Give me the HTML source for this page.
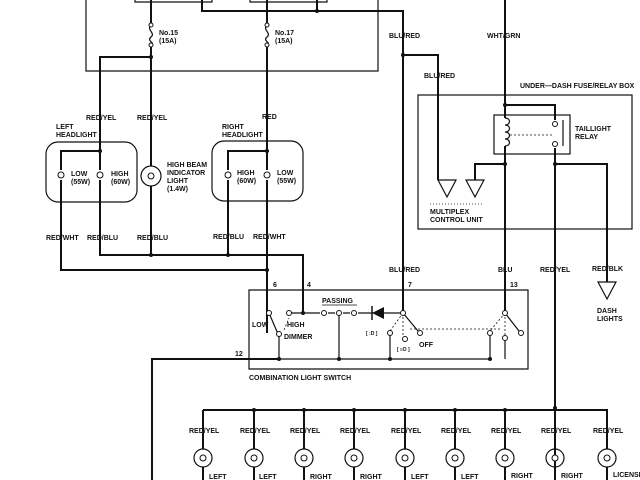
<!DOCTYPE html>
<html><head><meta charset="utf-8"><style>
html,body{margin:0;padding:0;background:#fff;}
svg{display:block;}
text{font-family:"Liberation Sans",sans-serif;font-size:7px;font-weight:bold;fill:#111;}
</style></head><body>
<svg width="640" height="480" viewBox="0 0 640 480" xmlns="http://www.w3.org/2000/svg">
<g fill="none" stroke="#111" stroke-width="1.2">
<path d="M86 0 V71 H378 V0"/>
<path d="M135 0 V2 H212 V0 M250 0 V2 H327 V0"/>
</g>
<g fill="none" stroke="#111" stroke-width="2">
<path d="M202 0 V11 H403 V313"/>
<path d="M317 0 V11"/>
<path d="M403 55 H438 V180"/>
<path d="M151 0 V25 M151 45 V166 M151 186 V255"/>
<path d="M151 57 H100 V170 M100 180 V255 H303 V313"/>
<path d="M267 0 V25 M267 45 V170 M267 180 V333"/>
<path d="M267 151 H228 V170 M228 180 V255"/>
<path d="M100 151 H61 V170 M61 180 V270 H267"/>
<path d="M505 0 V118 M505 146 V313"/>
<path d="M505 105 H555 V120 M555 148 V480"/>
<path d="M505 164 H475 V180"/>
<path d="M555 164 H607 V282"/>
<path d="M203 410 H607 V449 M203 410 V449 M254 410 V449 M304 410 V449 M354 410 V449 M405 410 V449 M455 410 V449 M505 410 V449 M555 410 V449"/>
<path d="M203 467 V480 M254 467 V480 M304 467 V480 M354 467 V480 M405 467 V480 M455 467 V480 M505 467 V480 M555 467 V480 M607 467 V480"/>
<path d="M152 480 V359 H279"/>
</g>
<g fill="none" stroke="#111" stroke-width="1.2">
<path d="M151 25 c-5 5 5 8 0 12 c-5 4 5 6 0 8"/>
<path d="M267 25 c-5 5 5 8 0 12 c-5 4 5 6 0 8"/>
<rect x="46" y="142" width="91" height="60" rx="12"/>
<rect x="212" y="141" width="91" height="60" rx="12"/>
<circle cx="151" cy="176" r="10"/>
<rect x="418" y="95" width="214" height="134"/>
<rect x="494" y="115" width="76" height="39"/>
<path d="M438 180 h18 l-9 17 z M466 180 h18 l-9 17 z M598 282 h18 l-9 17 z"/>
<path d="M430 204 H484" stroke-dasharray="1 2" stroke-width="0.8"/>
<path d="M505 118 c6 0 6 7 0 7 c6 0 6 7 0 7 c6 0 6 7 0 7 c6 0 6 7 0 7"/>
<path d="M563 120 V146"/>
<path d="M510 135 H552" stroke-dasharray="2 2" stroke-width="0.8"/>
<path d="M249 290 H528 V369 H249 Z"/>
<path d="M269 313 L278 334"/>
<path d="M279 334 V359 H490 M339 313 V359 M390 333 V359 M490 333 V359 M505 338 V359"/>
<path d="M289 313 H303 H320"/>
<path d="M328 313 H335 M343 313 H350 M358 313 H403"/>
<path d="M322 305 H357" stroke-width="0.8"/>
<path d="M403 313 L418 331 M505 313 L519 331"/>
<path d="M403 313 L390 331 M403 313 V338 M505 313 L490 331 M505 313 V336 M284 330 L289 318 M410 329 H500" stroke-dasharray="2 2" stroke-width="0.8"/>
<g>
<circle cx="203" cy="458" r="9"/><circle cx="254" cy="458" r="9"/><circle cx="304" cy="458" r="9"/><circle cx="354" cy="458" r="9"/><circle cx="405" cy="458" r="9"/><circle cx="455" cy="458" r="9"/><circle cx="505" cy="458" r="9"/><circle cx="555" cy="458" r="9"/><circle cx="607" cy="458" r="9"/>
</g>
</g>
<g fill="#fff" stroke="#111" stroke-width="1">
<circle cx="61" cy="175" r="3"/><circle cx="100" cy="175" r="3"/><circle cx="228" cy="175" r="3"/><circle cx="267" cy="175" r="3"/><circle cx="151" cy="176" r="3"/>
<circle cx="151" cy="25" r="2"/><circle cx="151" cy="45" r="2"/><circle cx="267" cy="25" r="2"/><circle cx="267" cy="45" r="2"/>
<circle cx="555" cy="124" r="2.5"/><circle cx="555" cy="144" r="2.5"/>
<circle cx="269" cy="313" r="2.5"/><circle cx="289" cy="313" r="2.5"/><circle cx="279" cy="334" r="2.5"/>
<circle cx="324" cy="313" r="2.5"/><circle cx="339" cy="313" r="2.5"/><circle cx="354" cy="313" r="2.5"/>
<circle cx="403" cy="313" r="2.5"/><circle cx="420" cy="333" r="2.5"/><circle cx="390" cy="333" r="2.5"/><circle cx="405" cy="339" r="2.5"/>
<circle cx="505" cy="313" r="2.5"/><circle cx="521" cy="333" r="2.5"/><circle cx="490" cy="333" r="2.5"/><circle cx="505" cy="338" r="2.5"/>
<circle cx="203" cy="458" r="3"/><circle cx="254" cy="458" r="3"/><circle cx="304" cy="458" r="3"/><circle cx="354" cy="458" r="3"/><circle cx="405" cy="458" r="3"/><circle cx="455" cy="458" r="3"/><circle cx="505" cy="458" r="3"/><circle cx="555" cy="458" r="3"/><circle cx="607" cy="458" r="3"/>
</g>
<path d="M372 313 L384 307 V319 Z" fill="#111"/>
<path d="M372 306 V320" stroke="#111" stroke-width="1.5"/>
<g fill="#111">
<circle cx="317" cy="11" r="2"/><circle cx="403" cy="55" r="2"/><circle cx="151" cy="57" r="2"/>
<circle cx="100" cy="151" r="2"/><circle cx="267" cy="151" r="2"/>
<circle cx="151" cy="255" r="2"/><circle cx="228" cy="255" r="2"/><circle cx="267" cy="270" r="2"/>
<circle cx="303" cy="313" r="2"/><circle cx="279" cy="359" r="2"/><circle cx="339" cy="359" r="2"/><circle cx="390" cy="359" r="2"/><circle cx="490" cy="359" r="2"/>
<circle cx="505" cy="105" r="2"/><circle cx="505" cy="164" r="2"/><circle cx="555" cy="164" r="2"/><circle cx="555" cy="408" r="2"/>
<circle cx="254" cy="410" r="2"/><circle cx="304" cy="410" r="2"/><circle cx="354" cy="410" r="2"/><circle cx="405" cy="410" r="2"/><circle cx="455" cy="410" r="2"/><circle cx="505" cy="410" r="2"/>
</g>
<text x="159" y="35">No.15</text><text x="159" y="43">(15A)</text>
<text x="275" y="35">No.17</text><text x="275" y="43">(15A)</text>
<text x="86" y="120">RED/YEL</text><text x="137" y="120">RED/YEL</text><text x="262" y="119">RED</text>
<text x="56" y="129">LEFT</text><text x="56" y="137">HEADLIGHT</text>
<text x="222" y="129">RIGHT</text><text x="222" y="137">HEADLIGHT</text>
<text x="71" y="176">LOW</text><text x="71" y="184">(55W)</text>
<text x="111" y="176">HIGH</text><text x="111" y="184">(60W)</text>
<text x="237" y="175">HIGH</text><text x="237" y="183">(60W)</text>
<text x="277" y="175">LOW</text><text x="277" y="183">(55W)</text>
<text x="167" y="167">HIGH BEAM</text><text x="167" y="175">INDICATOR</text><text x="167" y="183">LIGHT</text><text x="167" y="191">(1.4W)</text>
<text x="46" y="240">RED/WHT</text><text x="87" y="240">RED/BLU</text><text x="137" y="240">RED/BLU</text><text x="213" y="239">RED/BLU</text><text x="253" y="239">RED/WHT</text>
<text x="389" y="38">BLU/RED</text><text x="424" y="78">BLU/RED</text><text x="487" y="38">WHT/GRN</text>
<text x="520" y="88">UNDER—DASH FUSE/RELAY BOX</text>
<text x="575" y="131">TAILLIGHT</text><text x="575" y="139">RELAY</text>
<text x="430" y="214">MULTIPLEX</text><text x="430" y="222">CONTROL UNIT</text>
<text x="389" y="272">BLU/RED</text><text x="498" y="272">BLU</text><text x="540" y="272">RED/YEL</text><text x="592" y="271">RED/BLK</text>
<text x="597" y="313">DASH</text><text x="597" y="321">LIGHTS</text>
<text x="273" y="287">6</text><text x="307" y="287">4</text><text x="408" y="287">7</text><text x="510" y="287">13</text><text x="235" y="356">12</text>
<text x="252" y="327">LOW</text><text x="287" y="327">HIGH</text><text x="284" y="339">DIMMER</text>
<text x="322" y="303">PASSING</text><text x="366" y="335" style="font-size:5px">[ :D ]</text><text x="397" y="351" style="font-size:5px">[ ≡D ]</text><text x="419" y="347">OFF</text>
<text x="249" y="380">COMBINATION LIGHT SWITCH</text>
<text x="189" y="433">RED/YEL</text><text x="240" y="433">RED/YEL</text><text x="290" y="433">RED/YEL</text><text x="340" y="433">RED/YEL</text><text x="391" y="433">RED/YEL</text><text x="441" y="433">RED/YEL</text><text x="491" y="433">RED/YEL</text><text x="541" y="433">RED/YEL</text><text x="593" y="433">RED/YEL</text>
<text x="209" y="479">LEFT</text><text x="259" y="479">LEFT</text><text x="310" y="479">RIGHT</text><text x="360" y="479">RIGHT</text><text x="411" y="479">LEFT</text><text x="461" y="479">LEFT</text><text x="511" y="478">RIGHT</text><text x="561" y="478">RIGHT</text><text x="613" y="477">LICENSE</text>
</svg>
</body></html>
